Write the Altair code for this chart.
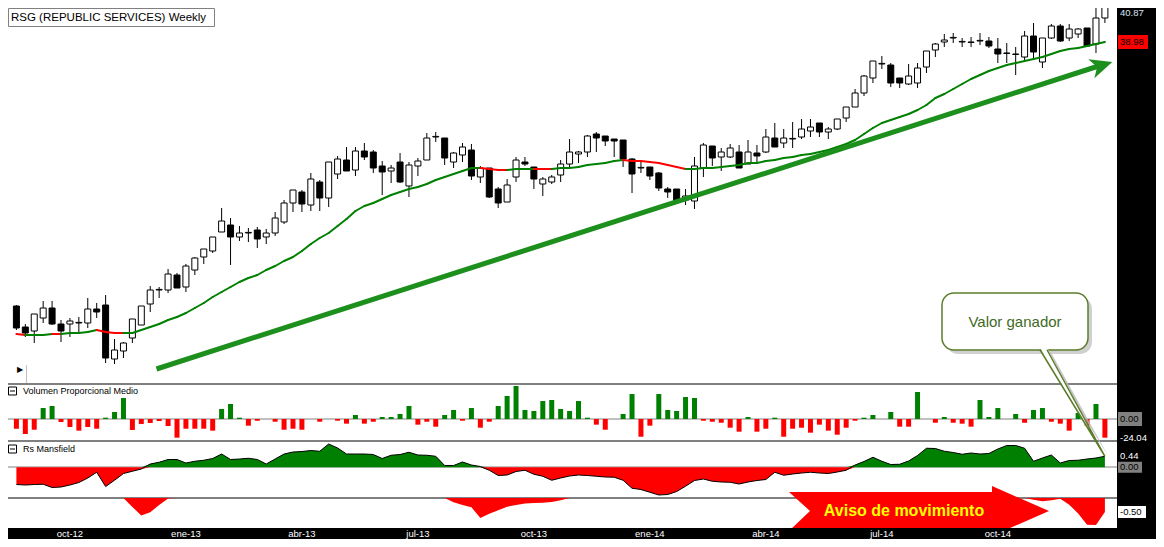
import altair as alt
import pandas as pd

FONT = "Liberation Sans"
GREEN = "#008000"
RED = "#ff0000"
OLIVE = "#5b7d2b"

# RSG weekly candles, ago-2012 .. dic-2014 (one value per week)
opens = [25.92, 24.87, 24.67, 25.32, 25.82, 25.02, 25.02, 25.07, 25.07, 25.77,
         25.97, 23.27, 23.67, 24.32, 24.97, 26.02, 26.72, 26.72, 27.47, 26.87,
         27.72, 28.37, 28.67, 29.62, 29.97, 29.37, 29.57, 29.72, 29.37, 29.57,
         30.12, 31.07, 31.62, 30.97, 32.12, 31.32, 32.52, 33.22, 32.72, 33.67,
         33.62, 32.92, 32.67, 33.12, 31.92, 32.92, 33.22, 34.37, 34.32, 33.12,
         33.47, 33.72, 32.37, 32.82, 31.77, 31.12, 32.37, 33.12, 32.87, 32.02,
         32.12, 32.47, 33.02, 33.52, 33.62, 34.52, 34.42, 34.27, 34.22, 33.27,
         32.82, 32.87, 32.57, 31.77, 31.77, 31.22, 31.17, 32.82, 33.92, 33.37,
         33.37, 33.62, 33.02, 33.57, 33.62, 34.32, 34.07, 34.27, 34.37, 34.67,
         35.07, 34.62, 34.77, 35.32, 35.87, 36.57, 37.32, 38.02, 37.97, 37.32,
         37.02, 37.07, 37.87, 38.72, 39.12, 39.32, 39.12, 39.12, 39.17, 39.17,
         38.77, 38.57, 38.52, 38.37, 39.42, 38.12, 39.32, 39.92, 39.32, 39.52,
         39.82, 39.02, 40.32]
highs = [25.97, 25.02, 25.52, 26.17, 26.17, 25.22, 25.32, 25.37, 26.32, 26.07,
         26.47, 24.27, 24.12, 25.27, 25.92, 26.92, 26.87, 27.77, 27.57, 28.02,
         28.37, 28.77, 29.37, 30.82, 30.32, 29.92, 29.82, 29.87, 29.77, 30.62,
         31.22, 31.72, 31.72, 32.57, 32.22, 33.12, 33.42, 33.87, 33.87, 34.07,
         33.72, 33.17, 32.97, 33.57, 33.12, 33.32, 34.57, 34.62, 34.32, 33.62,
         34.07, 34.02, 32.92, 32.82, 31.87, 32.27, 33.37, 33.37, 32.87, 32.37,
         32.47, 33.22, 34.27, 33.67, 34.47, 34.62, 34.42, 34.27, 34.22, 33.32,
         33.12, 32.87, 32.62, 31.87, 31.77, 31.77, 33.37, 34.07, 33.92, 33.82,
         34.02, 33.97, 34.22, 33.97, 34.77, 35.07, 34.77, 35.12, 35.27, 35.27,
         35.07, 34.87, 35.27, 35.87, 36.77, 37.47, 38.17, 38.42, 38.07, 37.32,
         38.02, 38.07, 38.67, 39.07, 39.52, 39.57, 39.32, 39.37, 39.57, 39.37,
         39.32, 39.07, 38.87, 39.67, 40.07, 39.32, 40.02, 40.02, 40.02, 39.82,
         39.82, 40.97, 41.07]
lows = [24.72, 24.37, 24.07, 25.07, 24.97, 24.12, 24.37, 24.62, 24.82, 25.32,
        23.07, 23.02, 23.32, 24.07, 24.97, 25.62, 26.32, 26.57, 26.82, 26.62,
        27.47, 28.02, 28.57, 29.62, 27.97, 29.17, 29.12, 28.82, 29.02, 29.42,
        30.02, 30.62, 30.62, 30.67, 30.67, 30.87, 32.27, 32.67, 32.42, 33.22,
        32.57, 31.47, 32.07, 32.07, 31.37, 32.42, 33.22, 34.12, 32.97, 32.82,
        33.12, 32.22, 32.07, 31.32, 30.82, 31.12, 32.12, 32.92, 31.77, 31.42,
        32.02, 32.12, 32.87, 33.07, 33.37, 33.62, 33.92, 33.37, 32.87, 31.57,
        32.57, 32.22, 31.67, 31.32, 31.12, 30.97, 30.77, 32.37, 32.92, 32.67,
        33.32, 32.82, 33.02, 33.02, 33.57, 33.87, 33.82, 33.82, 34.27, 34.37,
        34.37, 34.27, 34.72, 35.12, 35.87, 36.42, 37.07, 37.77, 36.87, 36.82,
        36.97, 36.82, 37.57, 38.37, 38.87, 39.07, 38.87, 38.87, 38.97, 38.82,
        38.07, 38.07, 37.47, 38.12, 38.32, 37.82, 39.27, 39.12, 39.17, 39.32,
        38.92, 38.57, 40.07]
closes = [24.82, 24.57, 25.52, 25.82, 25.02, 24.67, 25.17, 25.10, 25.77, 25.62,
          23.32, 23.72, 24.07, 25.27, 25.92, 26.72, 26.75, 27.52, 26.82, 27.92,
          28.32, 28.77, 29.37, 30.17, 29.37, 29.57, 29.60, 29.27, 29.57, 30.32,
          31.07, 31.72, 31.02, 32.27, 31.32, 33.12, 33.27, 32.67, 33.67, 33.37,
          32.82, 32.62, 32.82, 32.12, 32.97, 33.17, 34.32, 34.40, 33.32, 33.57,
          33.87, 32.42, 32.82, 31.37, 31.07, 31.97, 33.22, 33.02, 32.27, 32.27,
          32.37, 33.02, 33.62, 33.62, 34.42, 34.32, 34.17, 34.17, 33.27, 32.52,
          32.85, 32.42, 31.82, 31.62, 31.17, 31.42, 32.92, 33.97, 33.32, 33.62,
          33.82, 32.82, 33.62, 33.42, 34.37, 33.87, 34.32, 34.30, 34.77, 34.87,
          34.62, 34.77, 35.27, 35.87, 36.57, 37.42, 38.17, 38.05, 37.07, 37.07,
          37.42, 37.82, 38.67, 39.02, 39.22, 39.35, 39.15, 39.10, 39.20, 38.92,
          38.52, 38.55, 38.50, 39.42, 38.62, 39.32, 39.92, 39.17, 39.77, 39.77,
          38.92, 40.32, 40.87]

# moving average over the candles; weeks where it falls are drawn red
ma30 = [24.52, 24.47, 24.47, 24.47, 24.52, 24.52, 24.57, 24.57, 24.62, 24.72,
        24.62, 24.57, 24.57, 24.57, 24.72, 24.87, 25.02, 25.22, 25.37, 25.57,
        25.82, 26.07, 26.37, 26.62, 26.87, 27.12, 27.32, 27.47, 27.72, 27.92,
        28.17, 28.37, 28.67, 29.02, 29.32, 29.57, 29.92, 30.27, 30.67, 30.92,
        31.07, 31.27, 31.47, 31.62, 31.77, 31.87, 32.02, 32.22, 32.37, 32.52,
        32.67, 32.82, 32.82, 32.77, 32.72, 32.72, 32.77, 32.77, 32.77, 32.77,
        32.77, 32.82, 32.82, 32.87, 32.97, 33.02, 33.07, 33.17, 33.22, 33.17,
        33.17, 33.12, 33.07, 32.97, 32.87, 32.77, 32.77, 32.82, 32.82, 32.87,
        32.92, 32.97, 33.07, 33.07, 33.17, 33.22, 33.32, 33.37, 33.47, 33.52,
        33.62, 33.72, 33.87, 34.02, 34.22, 34.52, 34.82, 35.07, 35.22, 35.37,
        35.52, 35.72, 35.97, 36.32, 36.52, 36.77, 37.02, 37.27, 37.47, 37.67,
        37.82, 37.97, 38.07, 38.17, 38.27, 38.37, 38.52, 38.67, 38.77, 38.82,
        38.92, 39.02, 39.12]
ma_falling = [(0, 1), (4, 5), (9, 12), (52, 55), (58, 60), (68, 75)]

# Volumen Proporcional Medio
vol = [-12.5, -19.3, -13.8, 14.1, 16.7, -3.9, -10.3, -15.0, -10.3, -12.5,
       1.7, 9.0, 27.0, -14.1, -6.4, -5.1, -2.6, -9.0, -24.0, -12.5,
       -12.5, -12.5, -15.0, 12.9, 19.3, 1.7, -8.6, -2.2, 0.0, -3.5,
       -13.8, -12.5, -13.8, 0.0, -3.5, 0.0, -2.2, -6.0, 5.1, -6.0,
       -3.5, 2.6, 2.6, 6.4, 16.7, -7.3, -3.5, -9.9, 5.1, 11.6,
       -2.2, 14.1, -11.2, -3.5, 16.7, 29.6, 42.4, 11.6, 10.3, 23.1,
       24.4, 12.9, 10.3, 23.1, 1.7, -7.3, -13.8, 0.0, 6.4, 32.1,
       -22.8, -8.6, 32.1, 11.6, 10.3, 28.3, 27.0, -2.2, -3.5, -4.8,
       -11.2, -16.3, 2.6, -16.3, -12.5, 1.7, -22.8, -12.5, -11.2, -17.6,
       -7.3, -15.0, -20.2, -11.2, -2.2, 1.7, 5.1, 0.0, 9.0, -9.9,
       -9.9, 34.7, 0.0, -4.8, 2.6, -4.8, -6.0, -9.9, 24.4, 2.6,
       14.1, 0.0, 6.4, -4.8, 11.6, 14.1, -3.5, -6.0, -15.0, 7.7,
       -8.6, 19.3, -24.04]

# Rs Mansfield
rs = [-0.69, -0.71, -0.69, -0.68, -0.81, -0.79, -0.71, -0.61, -0.43, -0.20,
      -0.77, -0.52, -0.25, -0.16, -0.07, 0.13, 0.20, 0.31, 0.31, 0.17,
      0.24, 0.28, 0.35, 0.53, 0.31, 0.33, 0.36, 0.31, 0.13, 0.33,
      0.53, 0.61, 0.63, 0.67, 0.64, 0.93, 0.77, 0.53, 0.53, 0.53,
      0.51, 0.35, 0.48, 0.51, 0.60, 0.49, 0.48, 0.44, 0.07, 0.07,
      0.21, 0.09, 0.03, -0.12, -0.33, -0.31, -0.17, -0.12, -0.28, -0.36,
      -0.52, -0.43, -0.35, -0.31, -0.33, -0.36, -0.39, -0.40, -0.52, -0.84,
      -0.89, -1.00, -1.11, -1.09, -0.97, -0.76, -0.53, -0.47, -0.56, -0.59,
      -0.60, -0.67, -0.59, -0.53, -0.49, -0.20, -0.32, -0.27, -0.23, -0.20,
      -0.23, -0.25, -0.19, -0.12, 0.09, 0.23, 0.40, 0.24, 0.11, 0.12,
      0.25, 0.47, 0.76, 0.75, 0.64, 0.59, 0.52, 0.57, 0.53, 0.55,
      0.73, 0.87, 0.87, 0.76, 0.24, 0.37, 0.49, 0.17, 0.27, 0.28,
      0.33, 0.37, 0.44]

# signal strip under the Rs Mansfield
signal = [0, 0, 0, 0, 0, 0, 0, 0, 0, 0,
          0, 0, 0, -0.32, -0.62, -0.51, -0.25, -0.02, 0, 0,
          0, 0, 0, 0, 0, 0, 0, 0, 0, 0,
          0, 0, 0, 0, 0, 0, 0, 0, 0, 0,
          0, 0, 0, 0, 0, 0, 0, 0, 0, -0.15,
          -0.25, -0.33, -0.71, -0.56, -0.44, -0.31, -0.25, -0.20, -0.18, -0.17,
          -0.14, -0.08, 0, 0, 0, 0, 0, 0, 0, 0,
          0, 0, 0, 0, 0, 0, 0, 0, 0, 0,
          0, 0, 0, 0, 0, 0, 0, 0, 0, 0,
          0, 0, 0, 0, 0, 0, 0, 0, 0, 0,
          0, 0, 0, 0, 0, 0, 0, 0, 0, 0,
          0, 0, 0, 0, -0.06, -0.12, -0.08, -0.03, -0.24, -0.55,
          -0.95, -0.96, -0.50]

tick_weeks = [6, 19, 32, 45, 58, 71, 84, 97, 110]
tick_labels = ["oct-12", "ene-13", "abr-13", "jul-13", "oct-13",
               "ene-14", "abr-14", "jul-14", "oct-14"]

# hand-drawn trend arrow (week, price at both ends)
trend_weeks = [15.7, 121.3]
trend_prices = [22.77, 37.92]

weeks = list(range(len(closes)))

# the page keeps an 8px margin, so the drawing is 1156x539 with its first 8px hidden
W, H = 1156, 539

x_sc = alt.Scale(domain=[-1.2778, 127.1667], nice=False, zero=False)
price_sc = alt.Scale(domain=[22.07, 41.22], range=[383, 0], nice=False, zero=False)
vol_sc = alt.Scale(domain=[-28.3, 45.0], range=[441, 384], nice=False, zero=False)
rs_sc = alt.Scale(domain=[-1.23, 1.05], range=[498, 441], nice=False, zero=False)
sig_sc = alt.Scale(domain=[-1.07, 0.0], range=[528, 498], nice=False, zero=False)

one = pd.DataFrame({"a": [0]})


def X(field="k"):
    return alt.X(f"{field}:Q", scale=x_sc, axis=None)


def Y(field, scale):
    return alt.Y(f"{field}:Q", scale=scale, axis=None)


def rect(x, x2, y, y2, **kw):
    return alt.Chart(one).mark_rect(**kw).encode(
        x=alt.value(x), x2=alt.value(x2), y=alt.value(y), y2=alt.value(y2))


def hline(y, color, x=6, x2=1117):
    return alt.Chart(one).mark_rule(color=color, strokeWidth=1).encode(
        x=alt.value(x), x2=alt.value(x2), y=alt.value(y))


def label(x, y, text, **kw):
    return alt.Chart(one).mark_text(text=text, font=FONT, **kw).encode(
        x=alt.value(x), y=alt.value(y))


def tag(value, text, scale, color, box=None, x2=1142, half=7, dy=0):
    df = pd.DataFrame({"v": [value]})
    out = []
    if box:
        out.append(alt.Chart(df).mark_rect(color=box, yOffset=-half, y2Offset=half).encode(
            x=alt.value(1118), x2=alt.value(x2), y=Y("v", scale), y2="v:Q"))
    out.append(alt.Chart(df).mark_text(text=text, font=FONT, fontSize=9.5, align="left",
                                       color=color, dy=dy).encode(x=alt.value(1120), y=Y("v", scale)))
    return out


candles = pd.DataFrame({"k": weeks, "open": opens, "high": highs, "low": lows, "close": closes})
candles["dir"] = ["up" if c >= o else "down" for o, c in zip(opens, closes)]

ma_seg = pd.DataFrame({"k": weeks[:-1], "k2": weeks[1:], "ma": ma30[:-1], "ma2": ma30[1:]})
ma_seg["trend"] = ["down" if any(a <= i < b for a, b in ma_falling) else "up" for i in weeks[:-1]]

vol_df = pd.DataFrame({"k": weeks, "vol": vol, "zero": 0.0})
vol_df["sign"] = ["pos" if v > 0 else "neg" for v in vol]

rs_df = pd.DataFrame({"k": weeks, "rs": rs, "zero": 0.0})
rs_df["pos"] = rs_df["rs"].clip(lower=0)
rs_df["neg"] = rs_df["rs"].clip(upper=0)

sig_df = pd.DataFrame({"k": weeks, "sig": signal, "zero": 0.0})

trend = pd.DataFrame({"k": [trend_weeks[0]], "k2": [trend_weeks[1]],
                      "p": [trend_prices[0]], "p2": [trend_prices[1]]})
trend_tip = pd.DataFrame({"k": [122.83], "p": [38.12]})
rs_last = rs_df.tail(1)
ticks = pd.DataFrame({"k": tick_weeks, "label": tick_labels})

layers = []

# panel frames
layers += [hline(384, "black"), hline(441, "black"), hline(498, "black"),
           hline(419, "#808080"), hline(467, "#808080")]

# volume
layers.append(alt.Chart(vol_df).mark_bar(size=5).encode(
    x=X(), y=Y("vol", vol_sc), y2="zero:Q",
    color=alt.Color("sign:N", scale=alt.Scale(domain=["pos", "neg"], range=[GREEN, RED]), legend=None)))

# Rs Mansfield
layers.append(alt.Chart(rs_df).mark_area(color=GREEN).encode(x=X(), y=Y("pos", rs_sc), y2="zero:Q"))
layers.append(alt.Chart(rs_df).mark_area(color=RED).encode(x=X(), y=Y("neg", rs_sc), y2="zero:Q"))
layers.append(alt.Chart(rs_df).mark_line(color="black", strokeWidth=1).encode(x=X(), y=Y("rs", rs_sc)))

# signal strip
layers.append(alt.Chart(sig_df).mark_area(color=RED).encode(x=X(), y=Y("sig", sig_sc), y2="zero:Q"))

# candles
layers.append(alt.Chart(candles).mark_rule(color="black", strokeWidth=1).encode(
    x=X(), y=Y("low", price_sc), y2="high:Q"))
layers.append(alt.Chart(candles).mark_bar(size=6, stroke="black", strokeWidth=1).encode(
    x=X(), y=Y("open", price_sc), y2="close:Q",
    color=alt.Color("dir:N", scale=alt.Scale(domain=["up", "down"], range=["white", "black"]), legend=None)))

# moving average
layers.append(alt.Chart(ma_seg).mark_rule(strokeWidth=2, strokeCap="round").encode(
    x=X(), x2="k2:Q", y=Y("ma", price_sc), y2="ma2:Q",
    color=alt.Color("trend:N", scale=alt.Scale(domain=["up", "down"], range=[GREEN, RED]), legend=None)))

# trend arrow
TGREEN = "#1d8f1d"
layers.append(alt.Chart(trend).mark_rule(strokeWidth=5, color=TGREEN).encode(
    x=X(), x2="k2:Q", y=Y("p", price_sc), y2="p2:Q"))
layers.append(alt.Chart(trend_tip).mark_point(
    shape="M0,0L-24,-2.8L-15.2,4.9L-17.9,16.2Z", size=4, filled=True, opacity=1, color=TGREEN).encode(
    x=X(), y=Y("p", price_sc)))

# "Aviso de movimiento" arrow
layers.append(alt.Chart(one).mark_point(
    shape="M0,0L203,0L203,-6L260,19L203,44L203,38L1,38L21,19Z",
    size=4, filled=True, opacity=1, color=RED).encode(x=alt.value(789), y=alt.value(492)))
layers.append(label(904, 511, "Aviso de movimiento", fontSize=16, fontWeight="bold", color="#ffff00"))

# "Valor ganador" callout
layers.append(rect(946, 1092, 297, 354, color="#c4c4c4", cornerRadius=12, opacity=0.8))
layers.append(alt.Chart(rs_last).mark_point(
    shape="M-61,-104L4,1L-54,-104Z", size=4, filled=True, opacity=0.8, color="#b8b8b8").encode(
    x=X(), y=Y("rs", rs_sc)))
layers.append(rect(942, 1088, 293, 350, fill="white", stroke=OLIVE, strokeWidth=1.5, cornerRadius=12))
layers.append(alt.Chart(rs_last).mark_point(
    shape="M-64.9,-108.5L0,0L-57.9,-108.5Z", size=4, filled=True, opacity=1, color="white").encode(
    x=X(), y=Y("rs", rs_sc)))
layers.append(alt.Chart(rs_last).mark_point(
    shape="M-64.9,-106.5L0,0L-57.9,-106.5", size=4, filled=False, opacity=1,
    color=OLIVE, strokeWidth=1.5).encode(x=X(), y=Y("rs", rs_sc)))
layers.append(label(1015, 322, "Valor ganador", fontSize=15, color="#3f6a1f"))

# black scale strips
layers.append(rect(1117, W, 0, H, color="black"))
layers.append(rect(6, W, 528, H, color="black"))

# time axis
layers.append(alt.Chart(ticks).mark_text(font=FONT, fontSize=9.5, color="white").encode(
    x=X(), y=alt.value(533.5), text="label:N"))

# right side value tags
layers += tag(closes[-1], "40.87", price_sc, "#dbe6f5", dy=6)
layers += tag(ma30[-1], "38.98", price_sc, "black", box=RED, x2=1148)
layers += tag(0.0, "0.00", vol_sc, "black", box="#808080")
layers += tag(vol[-1], "-24.04", vol_sc, "white")
layers += tag(rs[-1], "0.44", rs_sc, "white")
layers += tag(0.0, "0.00", rs_sc, "black", box="#808080", half=5.5)
layers += tag(signal[-1], "-0.50", sig_sc, "black", box="white", x2=1146, half=6)

# title and panel captions
layers.append(rect(8.5, 214.5, 8.5, 26.5, fill="white", stroke="#808080", strokeWidth=1))
layers.append(label(11, 17.5, "RSG (REPUBLIC SERVICES) Weekly", fontSize=11.5, align="left", color="black"))
for yy, caption in [(391, "Volumen Proporcional Medio"), (449, "Rs Mansfield")]:
    layers.append(rect(8.5, 16.5, yy - 4, yy + 4, fill="white", stroke="black", strokeWidth=1))
    layers.append(hline(yy, "black", x=10, x2=15))
    layers.append(label(23, yy, caption, fontSize=9, align="left", color="black"))

# small pane marker bottom-left
layers.append(label(19.5, 370, "\u25b6", fontSize=8, color="black"))
layers.append(alt.Chart(one).mark_rule(color="#c0c0c0", strokeWidth=1).encode(
    x=alt.value(26.5), y=alt.value(365), y2=alt.value(383)))

chart = alt.layer(*layers).resolve_scale(y="independent", color="independent").properties(
    width=W, height=H,
    autosize=alt.AutoSizeParams(type="none"),
    padding={"left": -8, "top": -8, "right": 0, "bottom": 0},
    background="white",
).configure_view(stroke=None)

chart.save("out.html", embed_options={"renderer": "svg", "actions": False})
